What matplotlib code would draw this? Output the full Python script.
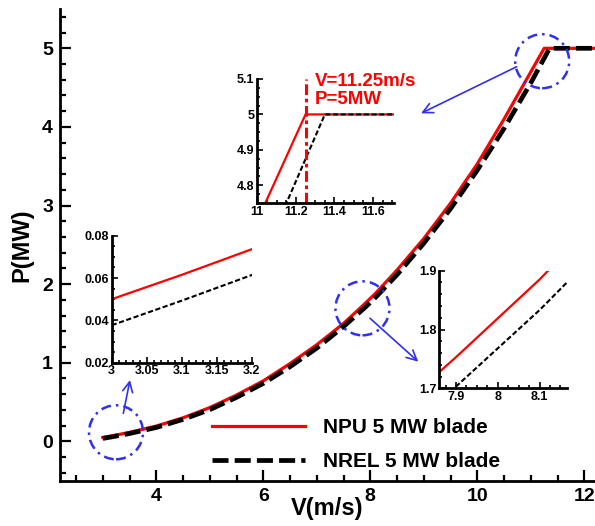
"""Power curve of the NPU and NREL 5 MW blades with three zoom insets."""

import matplotlib
matplotlib.use("Agg")
import matplotlib.pyplot as plt
from matplotlib.patches import Ellipse
from matplotlib.ticker import MultipleLocator, FuncFormatter

plt.rcParams["font.family"] = ["Liberation Sans", "DejaVu Sans"]
plt.rcParams["font.weight"] = "bold"

# wind speed (m/s) and power (MW)
v_npu = [3.0, 3.1, 3.2, 3.5, 4.0, 4.5, 5.0, 5.5, 6.0, 6.5, 7.0, 7.5, 7.9, 8.0, 8.1,
         8.5, 9.0, 9.5, 10.0, 10.5, 11.0, 11.25, 12.2]
p_npu = [0.050, 0.0615, 0.0736, 0.115, 0.195, 0.30, 0.43, 0.59, 0.77, 0.99, 1.23, 1.50,
         1.753, 1.819, 1.885, 2.18, 2.58, 3.03, 3.53, 4.10, 4.70, 5.0, 5.0]
v_nrel = [3.0, 3.1, 3.2, 3.5, 4.0, 4.5, 5.0, 5.5, 6.0, 6.5, 7.0, 7.5, 7.9, 8.0, 8.1,
          8.5, 9.0, 9.5, 10.0, 10.5, 11.0, 11.35, 12.2]
p_nrel = [0.0377, 0.0493, 0.0614, 0.10, 0.177, 0.28, 0.404, 0.56, 0.738, 0.95, 1.187, 1.46,
          1.703, 1.768, 1.833, 2.12, 2.52, 2.96, 3.45, 3.98, 4.56, 5.0, 5.0]
labels = ["NPU 5 MW blade", "NREL 5 MW blade"]
rated_v = 11.25
rated_p = 5.0

RED = "#ff0000"
BLUE = "#2f2ff5"
fmt = FuncFormatter(lambda x, _: f"{round(x, 4):g}")


def style_axes(ax, size, major, minor):
    for s in ("top", "right"):
        ax.spines[s].set_visible(False)
    for s in ("left", "bottom"):
        ax.spines[s].set_linewidth(size[0])
    ax.tick_params(which="both", direction="in", width=size[1], labelsize=size[2], pad=size[3])
    ax.tick_params(which="major", length=size[4])
    ax.tick_params(which="minor", length=size[4] * 0.55)
    ax.xaxis.set_major_locator(MultipleLocator(major[0]))
    ax.yaxis.set_major_locator(MultipleLocator(major[1]))
    ax.xaxis.set_minor_locator(MultipleLocator(minor[0]))
    ax.yaxis.set_minor_locator(MultipleLocator(minor[1]))
    ax.xaxis.set_major_formatter(fmt)
    ax.yaxis.set_major_formatter(fmt)


fig = plt.figure(figsize=(5.95, 5.26), dpi=100)
ax = fig.add_axes([60 / 595, 45.3 / 526, 535 / 595, 471.7 / 526])

l1, = ax.plot(v_npu, p_npu, color=RED, lw=2.3, zorder=3)
l2, = ax.plot(v_nrel, p_nrel, color="black", lw=3.4, ls=(0, (3.4, 1.3)), zorder=4)
ax.set_xlim(2.2, 12.2)
ax.set_ylim(-0.5, 5.5)
style_axes(ax, (2.0, 1.6, 14, 5, 8), (2, 1), (0.5, 0.2))
ax.set_xlabel("V(m/s)", fontsize=17, fontweight="bold")
ax.set_ylabel("P(MW)", fontsize=17, fontweight="bold")
ax.xaxis.set_label_coords(0.5, -0.035)
ax.yaxis.set_label_coords(-0.05, 0.5)

ax.legend([l1, l2], labels, loc="upper left", bbox_to_anchor=(211.7 / 595, 1 - 418 / 526),
          bbox_transform=fig.transFigure, frameon=False, fontsize=15, handlelength=4.5,
          handletextpad=0.85, labelspacing=0.72, borderpad=0, borderaxespad=0)

# dash-dot circles marking the zoomed regions, and arrows to the insets
for cx, cy in [(3.247, 0.116), (7.854, 1.693), (11.213, 4.836)]:
    ax.add_patch(Ellipse((cx, cy), 1.01, 0.687, fill=False, ec=BLUE, lw=1.8,
                         ls=(0, (4, 2, 1, 2)), zorder=5))
for tail, tip in [((3.383, 0.357), (3.508, 0.78)),
                  ((7.994, 1.566), (8.897, 1.014)),
                  ((10.736, 4.766), (8.948, 4.173))]:
    ax.annotate("", xy=tip, xytext=tail,
                arrowprops=dict(arrowstyle="->", color=BLUE, lw=1.2, mutation_scale=18,
                                shrinkA=0, shrinkB=0), zorder=5)

inset_size = (2.0, 1.2, 9, 2, 4)

# low wind speed inset
ax1 = fig.add_axes([111.7 / 595, 163.3 / 526, 140 / 595, 127 / 526])
ax1.patch.set_alpha(0)
ax1.plot(v_npu, p_npu, color=RED, lw=1.6)
ax1.plot(v_nrel, p_nrel, color="black", lw=1.5, ls=(0, (2.5, 1.2)))
ax1.set_xlim(3, 3.2)
ax1.set_ylim(0.02, 0.08)
style_axes(ax1, inset_size, (0.05, 0.02), (0.01, 0.005))

# rated point inset
ax2 = fig.add_axes([257.3 / 595, 323 / 526, 137 / 595, 124 / 526])
ax2.patch.set_alpha(0)
ax2.plot(v_npu, p_npu, color=RED, lw=1.6)
ax2.plot(v_nrel, p_nrel, color="black", lw=1.5, ls=(0, (2.5, 1.2)))
ax2.axvline(rated_v, color=RED, lw=2.2, ls=(0, (3.5, 1.2, 1.2, 1.2)))
ax2.set_xlim(11, 11.71)
ax2.set_ylim(4.75, 5.1)
style_axes(ax2, inset_size, (0.2, 0.1), (0.05, 0.025))
ax2.text(11.3, 5.117, f"V={rated_v:g}m/s\nP={rated_p:g}MW", color=RED, fontsize=13.5,
         fontweight="bold", va="top", ha="left", linespacing=1.1)

# mid wind speed inset
ax3 = fig.add_axes([439.3 / 595, 137.7 / 526, 127.4 / 595, 117.6 / 526])
ax3.patch.set_alpha(0)
ax3.plot(v_npu, p_npu, color=RED, lw=1.6)
ax3.plot(v_nrel, p_nrel, color="black", lw=1.5, ls=(0, (2.5, 1.2)))
ax3.set_xlim(7.86, 8.165)
ax3.set_ylim(1.7, 1.9)
style_axes(ax3, inset_size, (0.1, 0.1), (0.025, 0.02))

fig.savefig("out.png", dpi=100)
